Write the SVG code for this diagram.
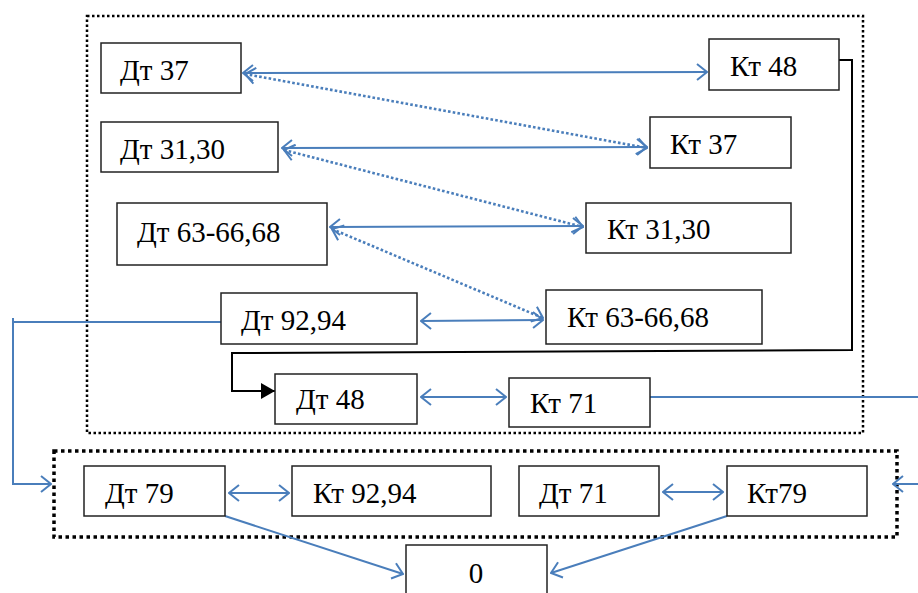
<svg xmlns="http://www.w3.org/2000/svg" width="918" height="593" viewBox="0 0 918 593">
<style>
.b{fill:#fff;stroke:#222;stroke-width:1.5}
.t{font-family:"Liberation Serif","Times New Roman",serif;font-size:29px;fill:#000}
.c{fill:none;stroke:#4a7ebb;stroke-width:2}
.d{fill:none;stroke:#4a7ebb;stroke-width:2.6;stroke-dasharray:2.6 2.2}
.k{fill:none;stroke:#000;stroke-width:2}
</style>
<defs>
<marker id="a" viewBox="0 0 12 18" refX="11" refY="9" markerWidth="12" markerHeight="18" markerUnits="userSpaceOnUse" orient="auto-start-reverse">
<path d="M1,1 L11,9 L1,17" fill="none" stroke="#4a7ebb" stroke-width="2"/>
</marker>
<marker id="f" viewBox="0 0 14 16" refX="14" refY="8" markerWidth="14" markerHeight="16" markerUnits="userSpaceOnUse" orient="auto">
<path d="M0,0 L14,8 L0,16 Z" fill="#000"/>
</marker>
</defs>
<rect x="87" y="16" width="776" height="417" fill="none" stroke="#000" stroke-width="2.5" stroke-dasharray="2.5 2.5"/>
<rect x="54" y="451" width="843" height="86" fill="none" stroke="#000" stroke-width="3.5" stroke-dasharray="3.5 3.5"/>
<g id="connectors">
<line class="c" x1="243" y1="73" x2="707" y2="72" marker-start="url(#a)" marker-end="url(#a)"/>
<line class="d" x1="245" y1="74" x2="647" y2="148" marker-start="url(#a)" marker-end="url(#a)"/>
<line class="c" x1="282" y1="148" x2="647" y2="147" marker-start="url(#a)" marker-end="url(#a)"/>
<line class="d" x1="284" y1="150" x2="583" y2="227" marker-start="url(#a)" marker-end="url(#a)"/>
<line class="c" x1="330" y1="227" x2="583" y2="226" marker-start="url(#a)" marker-end="url(#a)"/>
<line class="d" x1="332" y1="229" x2="543" y2="318" marker-start="url(#a)" marker-end="url(#a)"/>
<line class="c" x1="421" y1="321" x2="543" y2="320" marker-start="url(#a)" marker-end="url(#a)"/>
<line class="c" x1="421" y1="397" x2="506" y2="397" marker-start="url(#a)" marker-end="url(#a)"/>
<line class="c" x1="229" y1="493" x2="289" y2="493" marker-start="url(#a)" marker-end="url(#a)"/>
<line class="c" x1="663" y1="492" x2="723" y2="492" marker-start="url(#a)" marker-end="url(#a)"/>
<line class="c" x1="225" y1="516" x2="403" y2="574" marker-end="url(#a)"/>
<line class="c" x1="727" y1="516" x2="551" y2="573" marker-end="url(#a)"/>
<polyline class="c" points="221,322 13,322 13,484 51,484" marker-end="url(#a)"/>
<line class="c" x1="13" y1="318" x2="13" y2="322"/>
<line class="c" x1="650" y1="397" x2="918" y2="397"/>
<line class="c" x1="918" y1="484" x2="893" y2="484" marker-end="url(#a)"/>
<polyline class="k" points="839,60 852,60 852,350 232,353 232,391 275,391" marker-end="url(#f)"/>
</g>
<g id="n-dt37"><rect class="b" x="101" y="43" width="140" height="50"/><text class="t" x="120" y="80">Дт 37</text></g>
<g id="n-dt3130"><rect class="b" x="101" y="122" width="177" height="50"/><text class="t" x="120" y="159">Дт 31,30</text></g>
<g id="n-dt63"><rect class="b" x="117" y="203" width="210" height="62"/><text class="t" x="137" y="242">Дт 63-66,68</text></g>
<g id="n-kt48"><rect class="b" x="709" y="39" width="130" height="51"/><text class="t" x="730" y="76">Кт 48</text></g>
<g id="n-kt37"><rect class="b" x="650" y="117" width="141" height="51"/><text class="t" x="670" y="154">Кт 37</text></g>
<g id="n-kt3130"><rect class="b" x="586" y="203" width="205" height="50"/><text class="t" x="607" y="239">Кт 31,30</text></g>
<g id="n-dt9294"><rect class="b" x="221" y="293" width="196" height="51"/><text class="t" x="241" y="330">Дт 92,94</text></g>
<g id="n-kt63"><rect class="b" x="546" y="290" width="216" height="54"/><text class="t" x="567" y="327">Кт 63-66,68</text></g>
<g id="n-dt48"><rect class="b" x="275" y="374" width="142" height="50"/><text class="t" x="296" y="409">Дт 48</text></g>
<g id="n-kt71"><rect class="b" x="509" y="378" width="141" height="49"/><text class="t" x="530" y="413">Кт 71</text></g>
<g id="n-dt79"><rect class="b" x="84" y="466" width="141" height="50"/><text class="t" x="105" y="503">Дт 79</text></g>
<g id="n-kt9294"><rect class="b" x="292" y="466" width="199" height="50"/><text class="t" x="313" y="503">Кт 92,94</text></g>
<g id="n-dt71"><rect class="b" x="519" y="466" width="140" height="50"/><text class="t" x="539" y="503">Дт 71</text></g>
<g id="n-kt79"><rect class="b" x="727" y="466" width="140" height="50"/><text class="t" x="747" y="503">Кт79</text></g>
<g id="n-zero"><rect class="b" x="406" y="545" width="141" height="60"/><text class="t" x="476" y="583" text-anchor="middle">0</text></g>
</svg>
